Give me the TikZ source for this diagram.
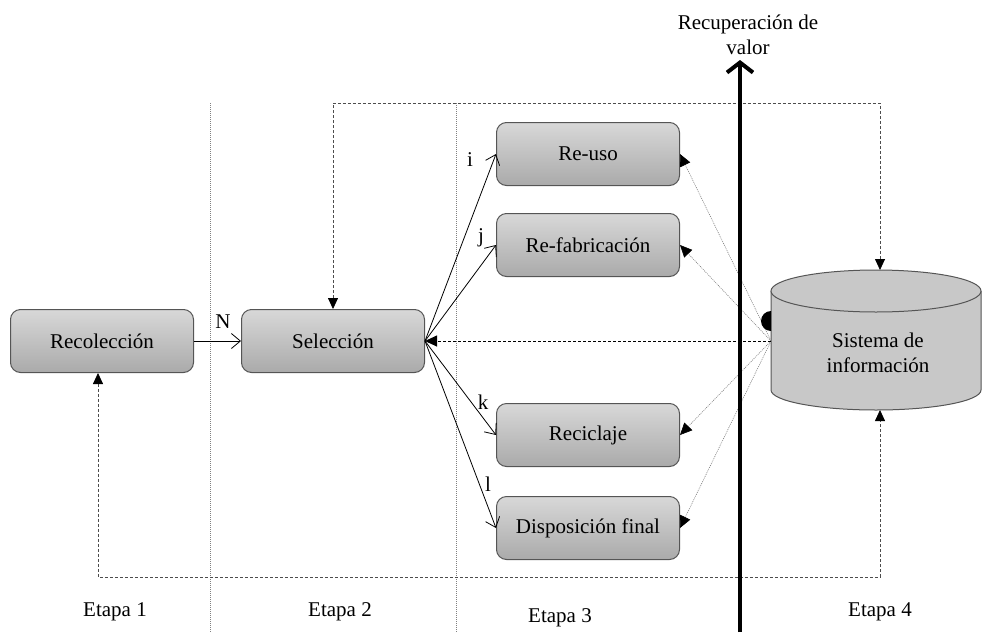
\documentclass[tikz,border=0pt]{standalone}
\usepackage{fontspec}
\setmainfont{Liberation Serif}
\newfontfamily\tnr{Liberation Serif}
\usetikzlibrary{arrows.meta}
\definecolor{boxtop}{RGB}{216,216,216}
\definecolor{boxbot}{RGB}{170,170,170}
\definecolor{cylgray}{RGB}{200,200,200}
\definecolor{edge}{RGB}{85,85,85}
\begin{document}
\begin{tikzpicture}[x=1pt,y=-1pt,
  every node/.style={font=\tnr\fontsize{21}{25}\selectfont},
  box/.style={draw=edge, line width=1pt, rounded corners=10pt, top color=boxtop, bottom color=boxbot,
    minimum width=183pt, minimum height=63pt, inner sep=0pt},
  flow/.style={-{Straight Barb[length=9pt,width=15pt]}, line width=0.8pt},
  info/.style={dash pattern=on 1pt off 1pt, draw=gray, line width=0.6pt, -{Triangle[length=12pt,width=11pt,color=black]}},
  fbloop/.style={dash pattern=on 3pt off 2pt, draw=black!70, line width=0.8pt,
    {Triangle[length=11pt,width=10pt,color=black]}-{Triangle[length=11pt,width=10pt,color=black]}},
  divider/.style={dash pattern=on 1pt off 1pt, draw=gray, line width=0.7pt},
  lbl/.style={inner sep=1pt}]
\useasboundingbox (0,0) rectangle (982,632);

% dividers
\draw[divider] (210,103) -- (210,632);
\draw[divider] (456,103) -- (456,632);

% cylinder (Sistema de informacion)
\fill[cylgray] (771,291) -- (771,390) arc[start angle=180,end angle=0,x radius=105,y radius=20] -- (981,291) -- cycle;
\draw[edge, line width=1pt] (771,291) -- (771,390) arc[start angle=180,end angle=0,x radius=105,y radius=20] -- (981,291);
\draw[edge, line width=1pt, fill=cylgray] (876,291) ellipse[x radius=105,y radius=21];
\node[align=center] (sis) at (878,353) {Sistema de\\información};
\coordinate (sisW) at (771,341);
\coordinate (sisN) at (880,270);
\coordinate (sisS) at (880,410);

% boxes
\node[box] (rec) at (102,341) {Recolección};
\node[box] (sel) at (333,341) {Selección};
\node[box] (reuso) at (588,154) {Re-uso};
\node[box] (refab) at (588,245) {Re-fabricación};
\node[box] (recic) at (588,435) {Reciclaje};
\node[box] (disp) at (588,528) {Disposición final};

% main flow
\draw[flow] (rec) -- (sel);
\node[lbl] (N) at (223,322) {N};
\draw[flow] (sel.east) -- (reuso.west);
\draw[flow] (sel.east) -- (refab.west);
\draw[flow] (sel.east) -- (recic.west);
\draw[flow] (sel.east) -- (disp.west);
\node[lbl] (li) at (470,160) {i};
\node[lbl] (lj) at (481,238) {j};
\node[lbl] (lk) at (483,402) {k};
\node[lbl] (ll) at (488,484) {l};

% information feedback (dotted)
\draw[info] (sisW) -- (reuso.east);
\draw[info] (sisW) -- (refab.east);
\draw[info] (sisW) -- (recic.east);
\draw[info] (sisW) -- (disp.east);

% dashed link to Seleccion
\draw[dash pattern=on 3pt off 2pt, line width=0.9pt, -{Triangle[length=12pt,width=11pt]}] (sisW) -- (sel.east);
\fill (sisW) ++(0,-10) arc[start angle=270,end angle=90,radius=10pt] -- cycle;

% loops
\coordinate (topL) at (333,103);
\coordinate (topR) at (880,103);
\coordinate (botL) at (98,577);
\coordinate (botR) at (880,577);
\draw[fbloop] (sel.north) -- (topL) -- (topR) -- (sisN);
\draw[fbloop] (rec.south -| botL) -- (botL) -- (botR) -- (sisS);

% value recovery axis
\coordinate (axB) at (740,632);
\coordinate (axT) at (740,60);
\draw[line width=4pt, -{Straight Barb[length=10pt,width=26pt]}] (axB) -- (axT);
\node[align=center] (rv) at (748,35) {Recuperación de\\valor};

% stage labels
\node (e1) at (115,612) {Etapa 1};
\node (e2) at (340,612) {Etapa 2};
\node (e3) at (560,618) {Etapa 3};
\node (e4) at (880,612) {Etapa 4};
\end{tikzpicture}
\end{document}
